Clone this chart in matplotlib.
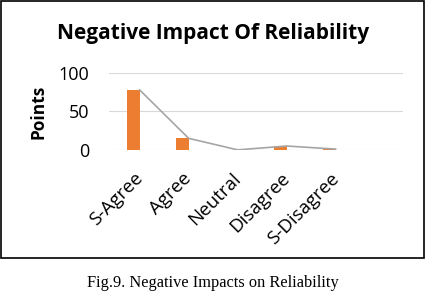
import matplotlib.pyplot as plt
import numpy as np
from matplotlib.patches import Rectangle

categories = ['S-Agree', 'Agree', 'Neutral', 'Disagree', 'S-Disagree', '']
bar_values = [78, 15, 0, 5, 1.5, 0]
line_values = [78, 15, 0, 5, 1]

plt.rcParams['font.family'] = ['Open Sans', 'DejaVu Sans']

fig = plt.figure(figsize=(4.26, 2.91), dpi=100)
ax = fig.add_axes([0.256, 0.485, 0.69, 0.264])

x = np.arange(len(categories))
ax.bar(x, bar_values, width=0.25, color='#ED7D31', zorder=3)
ax.plot(np.arange(len(line_values)) + 0.125, line_values, color='#A5A5A5', lw=1.2, zorder=4)

ax.set_xlim(-0.5, len(categories) - 0.5)
ax.set_ylim(0, 100)
ax.set_yticks([0, 50, 100])
ax.grid(axis='y', color='#D9D9D9', lw=0.8, zorder=0)
for s in ax.spines.values():
    s.set_visible(False)
ax.tick_params(length=0, labelsize=13)
ax.tick_params(axis='y', pad=14)
ax.tick_params(axis='x', pad=14)
ax.set_xticks(x)
ax.set_xticklabels(categories, rotation=45, ha='right', rotation_mode='anchor', fontsize=13.5)
ax.set_ylabel('Points', fontsize=12.5, fontweight='bold', labelpad=8)

fig.text(0.5, 0.885, 'Negative Impact Of Reliability', ha='center', va='center',
         fontsize=15, fontweight='bold')

fig.patches.append(Rectangle((0.003, 0.113), 0.992, 0.884, transform=fig.transFigure,
                             fill=False, edgecolor='black', lw=1.2))
fig.text(0.5, 0.027, 'Fig.9. Negative Impacts on Reliability', ha='center', va='center',
         fontsize=11.8, family='Liberation Serif')

fig.savefig('out.png', dpi=100)
